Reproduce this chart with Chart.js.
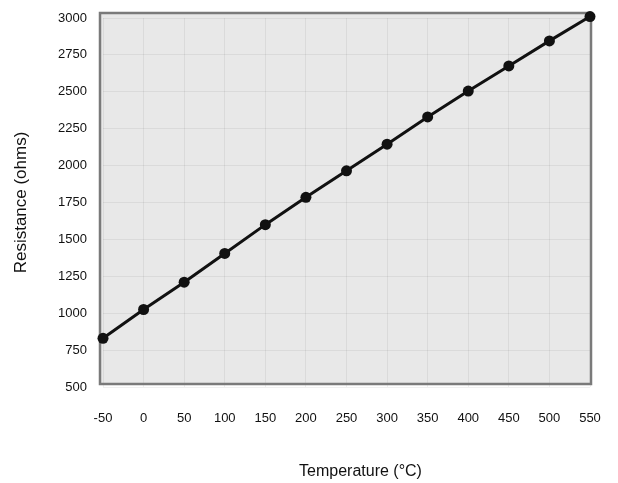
<!DOCTYPE html>
<html>
<head>
<meta charset="utf-8">
<script src="https://cdn.jsdelivr.net/npm/chart.js@4.4.1/dist/chart.umd.min.js"></script>
<style>
  html, body { margin: 0; padding: 0; background: #fff; }
  #wrap { width: 618px; height: 483px; position: relative; }
</style>
</head>
<body>
<div id="wrap"><canvas id="rtdChart"></canvas></div>
<script>
// Data
const temperatures = [-50, 0, 50, 100, 150, 200, 250, 300, 350, 400, 450, 500, 550];
const resistances = [830, 1025, 1210, 1405, 1600, 1785, 1965, 2145, 2330, 2505, 2675, 2845, 3010];
const xTitle = 'Temperature (°C)';
const yTitle = 'Resistance (ohms)';

Chart.defaults.font.family = "'Liberation Sans', Arial, sans-serif";
Chart.defaults.color = '#111';

// grey plot panel with a dark frame, like the scanned original
const plotFrame = {
    id: 'plotFrame',
    beforeDraw(chart) {
        const { ctx, chartArea: a } = chart;
        ctx.save();
        ctx.fillStyle = '#e8e8e8';
        ctx.fillRect(a.left - 3, a.top - 5, a.right - a.left + 4, a.bottom - a.top + 2);
        ctx.restore();
    },
    beforeDatasetsDraw(chart) {
        const { ctx, chartArea: a } = chart;
        ctx.save();
        ctx.strokeStyle = '#7a7a7a';
        ctx.lineWidth = 2.5;
        ctx.strokeRect(a.left - 3, a.top - 5, a.right - a.left + 4, a.bottom - a.top + 2);
        ctx.restore();
    },
    // x title sits a little right of the plot centre in the original
    afterDraw(chart) {
        const { ctx, chartArea: a } = chart;
        ctx.save();
        ctx.font = "16px 'Liberation Sans', Arial, sans-serif";
        ctx.fillStyle = '#111';
        ctx.textAlign = 'center';
        ctx.textBaseline = 'middle';
        ctx.fillText(xTitle, (a.left + a.right) / 2 + 14, 472);
        ctx.restore();
    }
};

const ctx = document.getElementById('rtdChart').getContext('2d');
new Chart(ctx, {
    type: 'line',
    data: {
        labels: temperatures,
        datasets: [{
            data: temperatures.map((t, i) => ({ x: t, y: resistances[i] })),
            borderColor: '#111',
            backgroundColor: '#111',
            borderWidth: 3,
            pointRadius: 5.5,
            pointBorderWidth: 0,
            pointBackgroundColor: '#111',
            tension: 0,
            clip: false
        }]
    },
    options: {
        responsive: true,
        maintainAspectRatio: false,
        animation: false,
        layout: { padding: { top: 18, right: 28, bottom: 0, left: 0 } },
        plugins: {
            legend: { display: false },
            tooltip: { enabled: false }
        },
        scales: {
            x: {
                type: 'linear',
                min: -50,
                max: 550,
                afterFit: (s) => { s.height = 96; },
                ticks: { stepSize: 50, padding: 2, font: { size: 13 }, callback: (v) => String(v) },
                grid: { color: 'rgba(0,0,0,0.06)', tickLength: 22, tickColor: 'rgba(0,0,0,0)' },
                border: { display: false }
            },
            y: {
                min: 500,
                max: 3000,
                afterFit: (s) => { s.width = 103; },
                ticks: { stepSize: 250, padding: 2, font: { size: 13 }, callback: (v) => String(v) },
                grid: { color: 'rgba(0,0,0,0.06)', tickLength: 14, tickColor: 'rgba(0,0,0,0)' },
                border: { display: false },
                title: { display: true, text: yTitle, font: { size: 17 }, padding: { top: 11, bottom: 0 } }
            }
        }
    },
    plugins: [plotFrame]
});
</script>
</body>
</html>
